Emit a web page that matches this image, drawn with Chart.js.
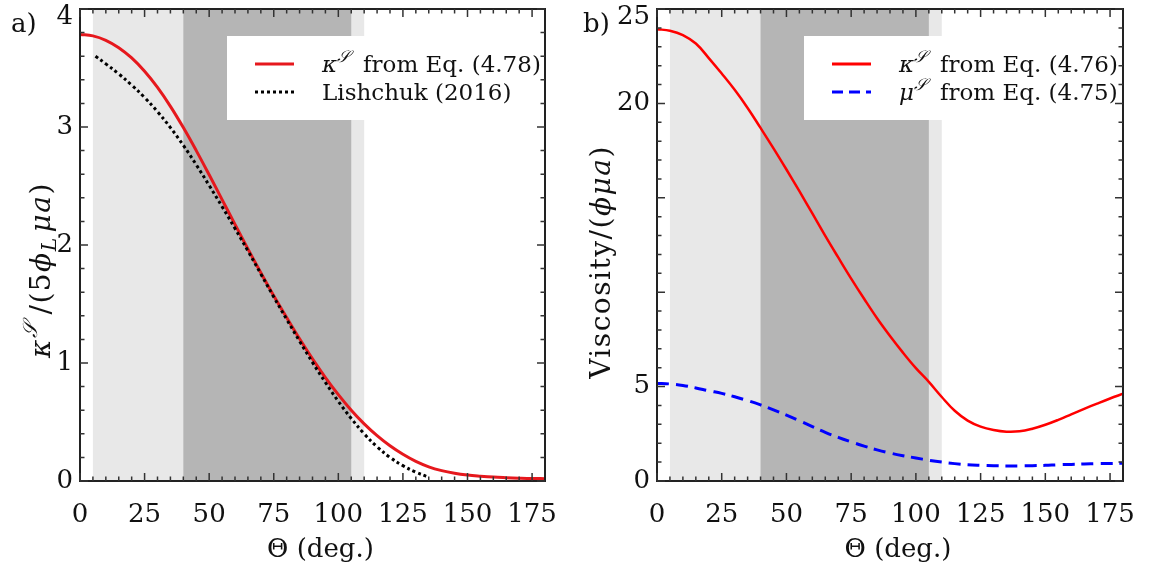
<!DOCTYPE html>
<html>
<head>
<meta charset="utf-8">
<title>Surface viscosity vs contact angle</title>
<script src="https://cdn.jsdelivr.net/npm/chart.js"></script>
<style>
    body { margin: 0; background: #fff; }
    .wrap { position: relative; width: 1149px; height: 565px; }
    canvas { position: absolute; top: 0; }
    #chartA { left: 0; }
    #chartB { left: 574px; }
</style>
</head>
<body>
<div class="wrap">
    <canvas id="chartA" width="574" height="565"></canvas>
    <canvas id="chartB" width="575" height="565"></canvas>
</div>

<script>
    // panel a) - kappa from Eq. (4.78) and Lishchuk (2016)
    const thetaA = [0, 5, 10, 15, 20, 25, 30, 35, 40, 45, 50, 55, 60, 65, 70, 75, 80, 85, 90,
                    95, 100, 105, 110, 115, 120, 125, 130, 135, 140, 145, 150, 155, 160, 165, 170, 175, 180];
    const kappaA = [3.785, 3.772, 3.735, 3.672, 3.585, 3.472, 3.335, 3.175, 2.995, 2.80, 2.595, 2.385, 2.175,
                    1.967, 1.765, 1.57, 1.385, 1.205, 1.035, 0.877, 0.732, 0.60, 0.484, 0.384, 0.298, 0.226,
                    0.166, 0.12, 0.088, 0.066, 0.051, 0.041, 0.033, 0.028, 0.024, 0.021, 0.02];
    const thetaLish = [6, 10, 15, 20, 25, 30, 35, 40, 45, 50, 55, 60, 65, 70, 75, 80, 85, 90, 95, 100,
                       105, 110, 115, 120, 125, 130, 134];
    const lishchuk = [3.60, 3.535, 3.45, 3.355, 3.25, 3.13, 2.995, 2.845, 2.68, 2.505, 2.325, 2.14, 1.95, 1.755,
                      1.56, 1.37, 1.185, 1.005, 0.835, 0.675, 0.53, 0.40, 0.29, 0.20, 0.13, 0.075, 0.04];

    // panel b) - kappa (4.76) and mu (4.75)
    const thetaB = [0, 5, 10, 15, 20, 25, 30, 35, 40, 45, 50, 55, 60, 65, 70, 75, 80, 85, 90, 95, 100,
                    105, 110, 115, 120, 125, 130, 135, 140, 145, 150, 155, 160, 165, 170, 175, 180];
    const kappaB = [23.93, 23.85, 23.62, 23.17, 22.4, 21.58, 20.72, 19.76, 18.70, 17.62, 16.5, 15.35, 14.17,
                    12.98, 11.84, 10.72, 9.65, 8.62, 7.68, 6.8, 5.98, 5.25, 4.45, 3.72, 3.2, 2.88, 2.70, 2.61,
                    2.63, 2.77, 2.98, 3.24, 3.53, 3.82, 4.1, 4.37, 4.62];
    const muB = [5.17, 5.14, 5.06, 4.93, 4.78, 4.64, 4.46, 4.26, 4.03, 3.77, 3.49, 3.19, 2.88, 2.58, 2.31, 2.07,
                 1.85, 1.65, 1.48, 1.34, 1.22, 1.10, 1.00, 0.92, 0.86, 0.83, 0.81, 0.80, 0.80, 0.81, 0.83, 0.86,
                 0.88, 0.90, 0.92, 0.93, 0.94];

    const xTicks = [0, 25, 50, 75, 100, 125, 150, 175];
    const yTicksA = [0, 1, 2, 3, 4];
    const yTicksB = [0, 5, 10, 15, 20, 25];
    const yLabelsB = ['0', '5', '', '', '20', '25'];

    // shaded angle ranges
    const lightBand = [5, 110];
    const darkBand = [40, 105];

    const SERIF = '"DejaVu Serif", serif';

    function pairs(xs, ys) {
        return xs.map((x, i) => ({ x: x, y: ys[i] }));
    }

    // text made of pieces: {t, i (italic), s: 'sup' | 'sub', gap}
    function fontFor(r, size) {
        const fs = r.s ? size * 0.72 : size;
        return (r.i ? 'italic ' : '') + fs + 'px ' + SERIF;
    }
    function runsWidth(ctx, runs, size) {
        let w = 0;
        runs.forEach(r => { ctx.font = fontFor(r, size); w += ctx.measureText(r.t).width + (r.gap || 0); });
        return w;
    }
    function drawRuns(ctx, runs, x, y, size) {
        ctx.textAlign = 'left';
        ctx.textBaseline = 'alphabetic';
        runs.forEach(r => {
            ctx.font = fontFor(r, size);
            let dy = 0;
            if (r.s === 'sup') dy = -size * 0.45;
            if (r.s === 'sub') dy = size * 0.22;
            ctx.fillText(r.t, x, y + dy);
            x += ctx.measureText(r.t).width + (r.gap || 0);
        });
    }

    const panelPlugin = {
        id: 'panel',
        beforeDatasetsDraw(chart, args, o) {
            const { ctx, chartArea: a, scales: { x } } = chart;
            ctx.save();
            ctx.beginPath();
            ctx.rect(a.left, a.top, a.width, a.height);
            ctx.clip();
            ctx.fillStyle = '#e8e8e8';
            const l0 = x.getPixelForValue(lightBand[0]), l1 = x.getPixelForValue(lightBand[1]);
            ctx.fillRect(l0, a.top, l1 - l0, a.height);
            ctx.fillStyle = '#b5b5b5';
            const d0 = x.getPixelForValue(darkBand[0]), d1 = x.getPixelForValue(darkBand[1]);
            ctx.fillRect(d0, a.top, d1 - d0, a.height);
            ctx.restore();
        },
        afterDatasetsDraw(chart, args, o) {
            const { ctx, chartArea: a, scales: { x, y } } = chart;
            ctx.save();

            // legend box
            const bx = a.left + 147, by = 36, bh = 84;
            ctx.fillStyle = '#fff';
            ctx.fillRect(bx, by, a.right - bx, bh);
            o.legend.forEach((item, i) => {
                const ly = 64 + i * 28;
                ctx.strokeStyle = item.color;
                ctx.lineWidth = item.width;
                ctx.setLineDash(item.dash || []);
                ctx.beginPath();
                ctx.moveTo(bx + 28, ly);
                ctx.lineTo(bx + 67, ly);
                ctx.stroke();
                ctx.setLineDash([]);
                ctx.fillStyle = '#111';
                drawRuns(ctx, item.text, bx + 95, ly + 8, 23);
            });

            // frame
            ctx.strokeStyle = '#222';
            ctx.lineWidth = 2;
            ctx.strokeRect(a.left, a.top, a.width, a.height);

            // inward ticks on all four sides
            ctx.strokeStyle = '#333';
            ctx.lineWidth = 1.5;
            ctx.beginPath();
            for (let v = 0; v < 180; v += 5) {
                const px = x.getPixelForValue(v);
                const len = v % 25 === 0 ? 8 : 4.5;
                ctx.moveTo(px, a.bottom); ctx.lineTo(px, a.bottom - len);
                ctx.moveTo(px, a.top); ctx.lineTo(px, a.top + len);
            }
            const yMax = o.yTicks[o.yTicks.length - 1];
            for (let k = 0; k * o.yMinor <= yMax + 1e-9; k++) {
                const v = k * o.yMinor;
                const py = y.getPixelForValue(v);
                const major = o.yTicks.some(t => Math.abs(t - v) < 1e-6);
                const len = major ? 8 : 4.5;
                ctx.moveTo(a.left, py); ctx.lineTo(a.left + len, py);
                ctx.moveTo(a.right, py); ctx.lineTo(a.right - len, py);
            }
            ctx.stroke();

            // tick labels
            ctx.fillStyle = '#111';
            ctx.font = '26px ' + SERIF;
            ctx.textAlign = 'center';
            ctx.textBaseline = 'middle';
            xTicks.forEach(v => ctx.fillText(String(v), x.getPixelForValue(v), a.bottom + 34));
            ctx.textAlign = 'right';
            o.yTicks.forEach((v, i) => {
                const lab = o.yLabels[i];
                if (!lab) return;
                const shift = v === yMax ? 8 : 0;
                ctx.fillText(lab, a.left - 7, y.getPixelForValue(v) + shift);
            });

            // x title
            const xt = [{ t: 'Θ (deg.)' }];
            const xw = runsWidth(ctx, xt, 26);
            drawRuns(ctx, xt, a.left + a.width / 2 + 8 - xw / 2, 557, 26);

            // y title, rotated
            ctx.save();
            ctx.translate(o.yTitleX, o.yTitleY);
            ctx.rotate(-Math.PI / 2);
            ctx.letterSpacing = '1.5px';
            const yw = runsWidth(ctx, o.yTitle, 28);
            drawRuns(ctx, o.yTitle, -yw / 2, 10, 28);
            ctx.restore();

            // panel letter
            ctx.font = '26px ' + SERIF;
            ctx.textAlign = 'left';
            ctx.textBaseline = 'alphabetic';
            ctx.fillText(o.letter, o.letterX, 32);

            ctx.restore();
        }
    };

    function makeChart(id, datasets, pad, yMax, panel) {
        return new Chart(document.getElementById(id), {
            type: 'line',
            data: { datasets: datasets },
            options: {
                responsive: false,
                animation: false,
                layout: { padding: pad },
                elements: { point: { radius: 0 }, line: { tension: 0.4 } },
                scales: {
                    x: { type: 'linear', min: 0, max: 180, display: false },
                    y: { type: 'linear', min: 0, max: yMax, display: false }
                },
                plugins: {
                    legend: { display: false },
                    tooltip: { enabled: false },
                    panel: panel
                }
            },
            plugins: [panelPlugin]
        });
    }

    const kappaRuns = [{ t: 'κ', i: true }, { t: '𝒮', i: true, s: 'sup', gap: 13 }];

    makeChart('chartA', [
        {
            data: pairs(thetaLish, lishchuk),
            borderColor: '#000',
            borderWidth: 3,
            borderDash: [3, 3]
        },
        {
            data: pairs(thetaA, kappaA),
            borderColor: '#e6181d',
            borderWidth: 3
        }
    ], { left: 80, right: 29, top: 9, bottom: 84 }, 4, {
        yTicks: yTicksA,
        yLabels: yTicksA.map(String),
        yMinor: 0.2,
        letter: 'a)',
        letterX: 11,
        yTitleX: 40,
        yTitleY: 270,
        yTitle: [{ t: 'κ', i: true }, { t: '𝒮', i: true, s: 'sup', gap: 6 },
            { t: '/(5' }, { t: 'ϕ', i: true }, { t: 'L', i: true, s: 'sub', gap: 4 },
            { t: 'μa', i: true }, { t: ')' }
        ],
        legend: [
            { color: '#e6181d', width: 3, text: kappaRuns.concat([{ t: 'from Eq. (4.78)' }]) },
            { color: '#000', width: 3, dash: [3, 3], text: [{ t: 'Lishchuk (2016)' }] }
        ]
    });

    makeChart('chartB', [
        {
            data: pairs(thetaB, muB),
            borderColor: '#0000ff',
            borderWidth: 3,
            borderDash: [12, 7]
        },
        {
            data: pairs(thetaB, kappaB),
            borderColor: '#ff0000',
            borderWidth: 2.5
        }
    ], { left: 83, right: 26, top: 9, bottom: 84 }, 25, {
        yTicks: yTicksB,
        yLabels: yLabelsB,
        yMinor: 1,
        letter: 'b)',
        letterX: 9,
        yTitleX: 26,
        yTitleY: 262,
        yTitle: [{ t: 'Viscosity/(' }, { t: 'ϕμa', i: true }, { t: ')' }],
        legend: [
            { color: '#ff0000', width: 3, text: kappaRuns.concat([{ t: 'from Eq. (4.76)' }]) },
            { color: '#0000ff', width: 3, dash: [11, 6], text: [{ t: 'μ', i: true }, { t: '𝒮', i: true, s: 'sup', gap: 13 }, { t: 'from Eq. (4.75)' }] }
        ]
    });
</script>
</body>
</html>
